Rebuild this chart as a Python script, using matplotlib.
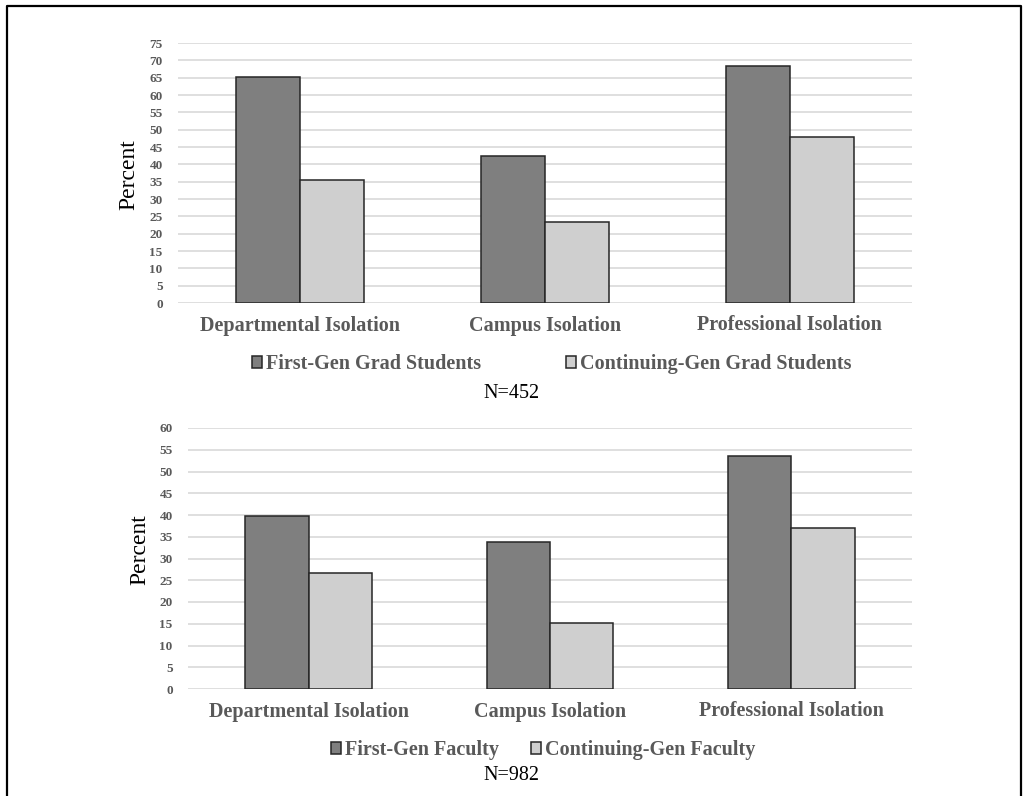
import matplotlib
matplotlib.use("Agg")
import matplotlib.pyplot as plt
from matplotlib.lines import Line2D
import numpy as np

categories = ["Departmental Isolation", "Campus Isolation", "Professional Isolation"]

top_series_names = ["First-Gen Grad Students", "Continuing-Gen Grad Students"]
top_first = [65.1, 42.3, 68.4]
top_cont = [35.6, 23.5, 47.9]
top_n = "N=452"
top_yticks = list(range(0, 80, 5))

bot_series_names = ["First-Gen Faculty", "Continuing-Gen Faculty"]
bot_first = [39.7, 33.8, 53.5]
bot_cont = [26.7, 15.2, 37.0]
bot_n = "N=982"
bot_yticks = list(range(0, 65, 5))

SERIF = ["Liberation Serif", "DejaVu Serif"]
DARK = "#7f7f7f"
LIGHT = "#cfcfcf"
EDGE = "#262626"
TXT = "#595959"
GRID = "#d9d9d9"

W, H = 1023, 796
fig = plt.figure(figsize=(W / 100, H / 100), dpi=100)


def px_axes(left, top, right, bottom):
    return fig.add_axes([left / W, 1 - bottom / H, (right - left) / W, (bottom - top) / H])


def draw(ax, first, cont, names, yticks):
    x = np.arange(len(categories))
    w = 0.262
    b1 = ax.bar(x - w / 2, first, w, color=DARK, edgecolor=EDGE, linewidth=1.1, zorder=3, label=names[0])
    b2 = ax.bar(x + w / 2, cont, w, color=LIGHT, edgecolor=EDGE, linewidth=1.1, zorder=3, label=names[1])
    ax.set_xlim(-0.5, len(categories) - 0.5)
    ax.set_ylim(0, yticks[-1])
    ax.set_yticks(yticks)
    ax.set_yticklabels([str(t) for t in yticks], family=SERIF, fontweight="bold", fontsize=9.5, color=TXT)
    ax.set_xticks(x)
    ax.set_xticklabels(categories, family=SERIF, fontweight="bold", fontsize=14.5, color=TXT)
    ax.tick_params(axis="both", length=0)
    ax.tick_params(axis="y", pad=11)
    ax.tick_params(axis="x", pad=9)
    for s in ax.spines.values():
        s.set_visible(False)
    ax.yaxis.grid(True, color=GRID, linewidth=1.2, zorder=0)
    ax.set_axisbelow(True)
    return b1, b2


ax1 = px_axes(178, 43, 912, 303)
h = draw(ax1, top_first, top_cont, top_series_names, top_yticks)
fig.legend(handles=h, loc="center", bbox_to_anchor=(552 / W, 1 - 364 / H), ncol=2, frameon=False,
           prop={"family": SERIF, "weight": "bold", "size": 14.5}, labelcolor=TXT,
           handlelength=0.5, handleheight=0.5, handletextpad=0.2, columnspacing=4.2, borderpad=0, borderaxespad=0)
fig.text(512 / W, 1 - 393 / H, top_n, family=SERIF, fontsize=14.5, color="black", ha="center", va="center")
fig.text(129 / W, 1 - 175 / H, "Percent", family=SERIF, fontsize=17, color="black", rotation=90, ha="center", va="center")

ax2 = px_axes(188, 428, 912, 689)
h = draw(ax2, bot_first, bot_cont, bot_series_names, bot_yticks)
fig.legend(handles=h, loc="center", bbox_to_anchor=(543 / W, 1 - 750 / H), ncol=2, frameon=False,
           prop={"family": SERIF, "weight": "bold", "size": 14.5}, labelcolor=TXT,
           handlelength=0.5, handleheight=0.5, handletextpad=0.2, columnspacing=1.6, borderpad=0, borderaxespad=0)
fig.text(511 / W, 1 - 776 / H, bot_n, family=SERIF, fontsize=14.5, color="black", ha="center", va="center")
fig.text(140 / W, 1 - 550 / H, "Percent", family=SERIF, fontsize=17, color="black", rotation=90, ha="center", va="center")

# frame
fig.add_artist(Line2D([7 / W, 7 / W, 1021 / W, 1021 / W], [0, 1 - 6 / H, 1 - 6 / H, 0],
                      transform=fig.transFigure, color="black", linewidth=1.6))

fig.savefig("out.png", dpi=100)
